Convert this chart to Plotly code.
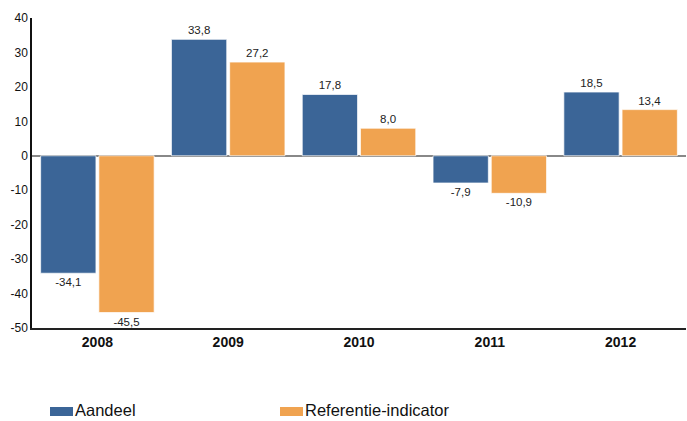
import plotly.graph_objects as go

years = ["2008", "2009", "2010", "2011", "2012"]
aandeel = [-34.1, 33.8, 17.8, -7.9, 18.5]
referentie = [-45.5, 27.2, 8.0, -10.9, 13.4]
y_ticks = [40, 30, 20, 10, 0, -10, -20, -30, -40, -50]

blue = "#3B6597"
orange = "#F0A350"


def fmt(v):
    return f"{v:.1f}".replace(".", ",")


fig = go.Figure()
for name, vals, col in [("Aandeel", aandeel, blue), ("Referentie-indicator", referentie, orange)]:
    fig.add_trace(go.Bar(
        x=years, y=vals, name=name,
        marker=dict(color=col, line=dict(color="rgba(255,255,255,0.7)", width=1)),
        text=[fmt(v) for v in vals], textposition="outside",
        textfont=dict(family="Liberation Sans, Arial", size=11.5, color="#222"),
        cliponaxis=False, showlegend=False,
    ))

W, H = 687, 421
ml, mr, mt, mb = 32, 1, 18, 93
pw, ph = W - ml - mr, H - mt - mb

fig.update_layout(
    width=W, height=H,
    margin=dict(l=ml, r=mr, t=mt, b=mb),
    paper_bgcolor="white", plot_bgcolor="white",
    barmode="group", bargap=0.11, bargroupgap=0.05,
    font=dict(family="Liberation Sans, Arial", color="#111"),
)
fig.update_xaxes(
    showgrid=False, showline=True, linecolor="#222", linewidth=2,
    ticks="", tickfont=dict(size=14, color="#111", weight="bold"),
)
fig.update_yaxes(
    range=[-50, 40], tickvals=y_ticks, ticktext=[str(t) for t in y_ticks],
    showgrid=False, showline=True, linecolor="#111", linewidth=1.5,
    zeroline=True, zerolinecolor="#888", zerolinewidth=2,
    ticks="", tickfont=dict(size=12, color="#111"),
)

# custom legend below the chart
def px_x(x):
    return (x - ml) / pw


def px_y(y):
    return (H - mb - y) / ph


legend_items = [("Aandeel", blue, 50), ("Referentie-indicator", orange, 280)]
for label, col, x0 in legend_items:
    fig.add_shape(type="rect", xref="paper", yref="paper",
                  x0=px_x(x0), x1=px_x(x0 + 23), y0=px_y(416), y1=px_y(407),
                  fillcolor=col, line=dict(width=0))
    fig.add_annotation(xref="paper", yref="paper", x=px_x(x0 + 24), y=px_y(410),
                       text=label, showarrow=False, xanchor="left", yanchor="middle",
                       borderpad=0, font=dict(size=16.5, color="#111"))

fig.write_html("out.html")
